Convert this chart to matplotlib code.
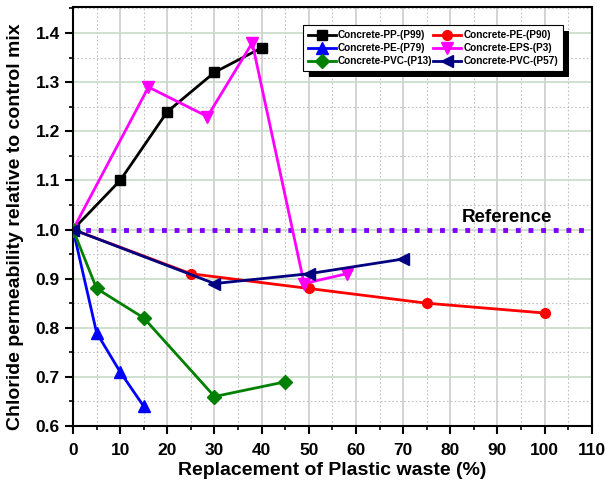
import matplotlib.pyplot as plt
from matplotlib.patches import Rectangle
from matplotlib.ticker import MultipleLocator

plt.rcParams['font.family'] = ['Liberation Sans', 'DejaVu Sans']
plt.rcParams['font.weight'] = 'bold'

# chloride permeability ratios by plastic replacement level
pp_p99_x = [0, 10, 20, 30, 40]
pp_p99_y = [1.0, 1.10, 1.24, 1.32, 1.37]
pe_p90_x = [0, 25, 50, 75, 100]
pe_p90_y = [1.0, 0.91, 0.88, 0.85, 0.83]
pe_p79_x = [0, 5, 10, 15]
pe_p79_y = [1.0, 0.79, 0.71, 0.64]
eps_p3_x = [0, 16, 28.5, 38, 49, 58]
eps_p3_y = [1.0, 1.29, 1.23, 1.38, 0.89, 0.91]
pvc_p13_x = [0, 5, 15, 30, 45]
pvc_p13_y = [1.0, 0.88, 0.82, 0.66, 0.69]
pvc_p57_x = [0, 30, 50, 70]
pvc_p57_y = [1.0, 0.89, 0.91, 0.94]
ref_x = [0, 110]
ref_y = [1.0, 1.0]

fig = plt.figure(figsize=(6.06, 4.84), dpi=100)
ax = fig.add_axes([0.1205, 0.1198, 0.856, 0.8657])

ax.plot(ref_x, ref_y, color='#8000ff', linestyle=(0, (1, 1.6)), linewidth=3.5, zorder=2)
ax.text(92, 1.008, 'Reference', fontsize=13.5, fontweight='bold', ha='center', va='bottom')

l_pp, = ax.plot(pp_p99_x, pp_p99_y, color='black', marker='s', markersize=7, linewidth=2,
                label='Concrete-PP-(P99)', zorder=3)
l_p90, = ax.plot(pe_p90_x, pe_p90_y, color='red', marker='o', markersize=7, linewidth=2,
                 label='Concrete-PE-(P90)', zorder=3)
l_p79, = ax.plot(pe_p79_x, pe_p79_y, color='blue', marker='^', markersize=8, linewidth=2,
                 label='Concrete-PE-(P79)', zorder=3)
l_eps, = ax.plot(eps_p3_x, eps_p3_y, color='magenta', marker='v', markersize=8, linewidth=2,
                 label='Concrete-EPS-(P3)', zorder=3)
l_p13, = ax.plot(pvc_p13_x, pvc_p13_y, color='green', marker='D', markersize=7, linewidth=2,
                 label='Concrete-PVC-(P13)', zorder=3)
l_p57, = ax.plot(pvc_p57_x, pvc_p57_y, color='navy', marker='<', markersize=8, linewidth=2,
                 label='Concrete-PVC-(P57)', zorder=3)

ax.set_xlim(0, 110)
ax.set_ylim(0.6, 1.453)
ax.xaxis.set_major_locator(MultipleLocator(10))
ax.xaxis.set_minor_locator(MultipleLocator(5))
ax.yaxis.set_major_locator(MultipleLocator(0.1))
ax.yaxis.set_minor_locator(MultipleLocator(0.05))
ax.yaxis.set_major_formatter(plt.FormatStrFormatter('%.1f'))

ax.grid(True, which='major', axis='x', color='#cccccc', linewidth=1.2, zorder=0)
ax.grid(True, which='major', axis='y', color='#c8dcc8', linewidth=1.2, zorder=0)
ax.grid(True, which='minor', color='#c0c0c0', linestyle=(0, (1.5, 2)), linewidth=0.8, zorder=0)
ax.set_axisbelow(True)

ax.tick_params(which='major', direction='out', length=6, width=1.5, labelsize=12.5)
ax.tick_params(axis='x', which='major', pad=6)
ax.tick_params(which='minor', direction='out', length=3, width=1.2)
for lbl in ax.get_xticklabels() + ax.get_yticklabels():
    lbl.set_fontweight('bold')
for sp in ax.spines.values():
    sp.set_linewidth(1.5)

ax.set_xlabel('Replacement of Plastic waste (%)', fontsize=14, fontweight='bold', labelpad=3)
ax.set_ylabel('Chloride permeability relative to control mix', fontsize=14,
              fontweight='bold')
ax.yaxis.set_label_coords(-0.095, 0.475)

# legend filled row by row: ncol=2 fills columns, so order handles accordingly
handles = [l_pp, l_p79, l_p13, l_p90, l_eps, l_p57]
leg = ax.legend(handles=handles, loc='upper right', bbox_to_anchor=(0.9447, 0.957), ncol=2,
                prop={'weight': 'bold', 'size': 7.2}, frameon=True,
                fancybox=False, shadow=False, framealpha=1,
                handlelength=2.8, columnspacing=0.1, handletextpad=0.2,
                borderpad=0.5, labelspacing=0.3, borderaxespad=0)
leg.get_frame().set_edgecolor('black')
leg.get_frame().set_linewidth(0.8)
leg.set_zorder(10)

# solid drop shadow behind the legend box
fig.canvas.draw()
bb = leg.get_window_extent().transformed(fig.transFigure.inverted())
dx, dy = 6 / 606, 6 / 484
ax.add_patch(Rectangle((bb.x0 + dx, bb.y0 - dy), bb.width, bb.height,
                       transform=fig.transFigure, facecolor='black',
                       edgecolor='none', zorder=9, clip_on=False))

plt.savefig('out.png', dpi=100)
